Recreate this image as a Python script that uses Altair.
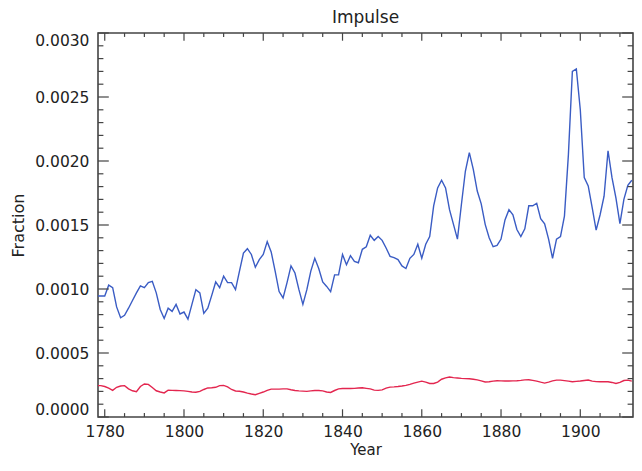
import altair as alt
import pandas as pd

# ---------------- data ----------------
years = list(range(1778, 1914))

impulse_blue = [
    0.000945, 0.000945, 0.000945, 0.00103, 0.00101, 0.00086, 0.000775, 0.000795, 0.00085, 0.00091,
    0.00097, 0.001025, 0.00101, 0.00105, 0.00106, 0.00097, 0.00084, 0.00077, 0.00085, 0.000825,
    0.00088, 0.000805, 0.00082, 0.000765, 0.00088, 0.000995, 0.00097, 0.00081, 0.00085, 0.00095,
    0.001055, 0.00101, 0.0011, 0.00105, 0.00105, 0.000995, 0.00114, 0.00128, 0.001315, 0.00127,
    0.00117, 0.00123, 0.00127, 0.00137, 0.00129, 0.00114, 0.00098, 0.00093, 0.00105, 0.00118,
    0.001125, 0.000995, 0.00088, 0.000995, 0.00114, 0.00124, 0.00116, 0.001055, 0.00102, 0.00098,
    0.00111, 0.00111, 0.00127, 0.00119, 0.00126, 0.001215, 0.001205, 0.00131, 0.00133, 0.00142,
    0.00138, 0.00141, 0.00138, 0.00132, 0.001255, 0.001245, 0.00123, 0.00118, 0.00116, 0.00124,
    0.00127, 0.00135, 0.00124, 0.00135, 0.00141, 0.00165, 0.00179, 0.00185, 0.00179, 0.00162,
    0.001505, 0.00139, 0.00166, 0.00192, 0.002065, 0.001935, 0.001765, 0.001665, 0.001505, 0.0014,
    0.00133, 0.00134, 0.00139, 0.00154, 0.00162, 0.00158, 0.001465, 0.00141, 0.00147, 0.00165,
    0.00165, 0.00167, 0.00155, 0.00151, 0.00139, 0.00124, 0.00139, 0.00141, 0.00157, 0.00205,
    0.0027, 0.00272, 0.0024, 0.00187, 0.001805, 0.001635, 0.00146, 0.00158, 0.001725, 0.00208,
    0.00187, 0.00171, 0.00151, 0.0017, 0.00181, 0.00185,
]

impulse_red = [
    0.000245, 0.000245, 0.000238, 0.000225, 0.000208, 0.000232, 0.000242, 0.000245, 0.00022, 0.000205,
    0.000197, 0.000238, 0.000258, 0.000255, 0.00023, 0.000205, 0.000195, 0.000188, 0.00021, 0.000208,
    0.000207, 0.000206, 0.000204, 0.0002, 0.000195, 0.000193, 0.0002, 0.000215, 0.000227, 0.000228,
    0.000232, 0.000245, 0.000247, 0.000235, 0.000215, 0.000203, 0.000201, 0.000195, 0.000187, 0.00018,
    0.000174, 0.000185, 0.000195, 0.000208, 0.000218, 0.000218, 0.000218, 0.00022, 0.00022, 0.000213,
    0.000207, 0.000204, 0.000202, 0.0002, 0.000204, 0.000207, 0.000207, 0.000204, 0.000195, 0.000192,
    0.000207, 0.00022, 0.000223, 0.000223, 0.000223, 0.000224, 0.000226, 0.000228, 0.000224, 0.00022,
    0.00021, 0.000208, 0.000212, 0.000226, 0.000233, 0.000235, 0.000238, 0.000242, 0.000247, 0.000255,
    0.000265, 0.000273, 0.00028, 0.000272, 0.000262, 0.000262, 0.000273, 0.000295, 0.000306, 0.000312,
    0.000308, 0.000305, 0.000302, 0.0003, 0.000299, 0.000295, 0.00029, 0.000282, 0.000274, 0.000275,
    0.00028, 0.000283, 0.000282, 0.000281, 0.000281, 0.000282, 0.000283, 0.000286, 0.00029, 0.000291,
    0.000286, 0.00028, 0.000272, 0.000265, 0.000273, 0.000282, 0.000288, 0.000288, 0.000284, 0.00028,
    0.000275, 0.000278, 0.000281, 0.000285, 0.000289, 0.00028, 0.000276, 0.000275, 0.000275, 0.000275,
    0.00027, 0.000262, 0.00027, 0.000285, 0.000288, 0.00028,
]

x_label_years = [1780, 1800, 1820, 1840, 1860, 1880, 1900]
x_minor_years = [1785, 1790, 1795, 1805, 1810, 1815, 1825, 1830, 1835, 1845, 1850, 1855,
                 1865, 1870, 1875, 1885, 1890, 1895, 1905, 1910]
y_major_vals = [0.0, 0.0005, 0.0010, 0.0015, 0.0020, 0.0025, 0.0030]
y_minor_vals = [0.0001, 0.0002, 0.0003, 0.0004, 0.0006, 0.0007, 0.0008, 0.0009,
                0.0011, 0.0012, 0.0013, 0.0014, 0.0016, 0.0017, 0.0018, 0.0019,
                0.0021, 0.0022, 0.0023, 0.0024, 0.0026, 0.0027, 0.0028, 0.0029]

# ---------------- style ----------------
FONT = "DejaVu Sans"
TXT = "#222222"
FRAME = "#444444"
BLUE = "#3a5cc4"
RED = "#e3264f"
PW, PH = 535, 384
XT_MAJ, XT_MIN = 7.7, 3.9
YT_MAJ, YT_MIN = 10.8, 5.4

df = pd.DataFrame({"Year": years, "blue": impulse_blue, "red": impulse_red})
xs = alt.Scale(domain=[1778.3, 1913.3], nice=False, zero=False)
ys = alt.Scale(domain=[0, 0.003], nice=False, zero=False)

x_axis = alt.Axis(values=x_label_years, format="d", ticks=False, domain=False,
                  grid=False, labelFont=FONT, labelFontSize=15.5, labelColor=TXT,
                  labelPadding=7.5, title="Year", titleFont=FONT, titleFontSize=15,
                  titleFontWeight="normal", titleColor=TXT, titleX=PW / 2, titleY=37.2,
                  titleAlign="center", titleBaseline="alphabetic", orient="bottom")
y_axis = alt.Axis(values=y_major_vals, format=".4f", ticks=False, domain=False,
                  grid=False, labelFont=FONT, labelFontSize=15.5, labelColor=TXT,
                  labelPadding=9, labelFlush=True, title="Fraction", titleFont=FONT,
                  titleFontSize=16, titleFontWeight="normal", titleColor=TXT,
                  titleAngle=270, titleX=-75, titleY=PH / 2, titleAlign="center",
                  titleBaseline="alphabetic", orient="left")

X = alt.X("Year:Q", scale=xs, axis=x_axis)

blue_line = alt.Chart(df).mark_line(color=BLUE, strokeWidth=1.4, clip=True).encode(
    x=X, y=alt.Y("blue:Q", scale=ys, axis=y_axis),
)
red_line = alt.Chart(df).mark_line(color=RED, strokeWidth=1.4, clip=True).encode(
    x=X, y=alt.Y("red:Q", scale=ys, axis=y_axis),
)

def xticks(vals, y0, y1):
    return alt.Chart(pd.DataFrame({"Year": vals})).mark_rule(color=FRAME, strokeWidth=1.2).encode(
        x=X, y=alt.value(y0), y2=alt.value(y1))

def yticks(vals, x0, x1):
    return alt.Chart(pd.DataFrame({"Fraction": vals})).mark_rule(color=FRAME, strokeWidth=1.2).encode(
        y=alt.Y("Fraction:Q", scale=ys, axis=y_axis), x=alt.value(x0), x2=alt.value(x1))

layers = [
    blue_line, red_line,
    xticks(x_label_years, PH, PH - XT_MAJ), xticks(x_minor_years, PH, PH - XT_MIN),
    xticks(x_label_years, 0, XT_MAJ), xticks(x_minor_years, 0, XT_MIN),
    yticks(y_major_vals, 0, YT_MAJ), yticks(y_minor_vals, 0, YT_MIN),
    yticks(y_major_vals, PW, PW - YT_MAJ), yticks(y_minor_vals, PW, PW - YT_MIN),
]

chart = alt.layer(*layers).properties(
    width=PW, height=PH,
    title=alt.TitleParams(text="Impulse", font=FONT, fontSize=17, fontWeight="normal",
                          color=TXT, anchor="middle", offset=5, baseline="top"),
    autosize=alt.AutoSizeParams(type="none"),
    padding={"left": 90, "top": 25, "right": 1, "bottom": 41},
).configure_view(stroke=FRAME, strokeWidth=1.6)

chart.save("out.html", embed_options={"renderer": "svg", "actions": False})
